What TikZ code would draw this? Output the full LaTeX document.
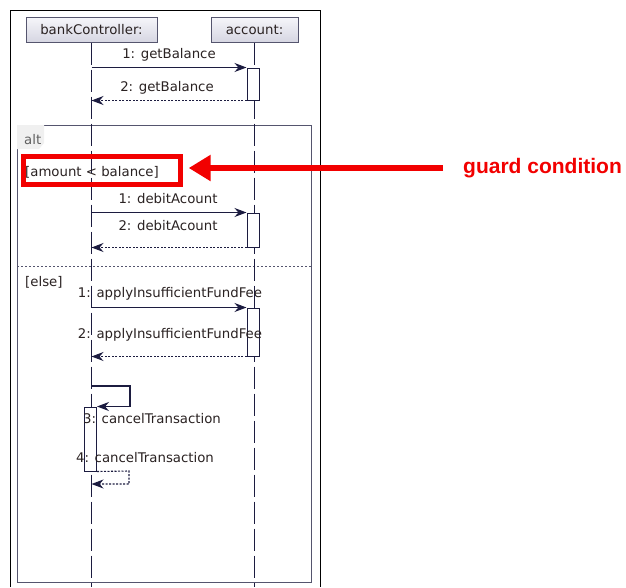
\documentclass[tikz,border=0pt]{standalone}
\usepackage{fontspec}
\setmainfont{DejaVu Sans}
\newfontfamily\guardfont{Liberation Sans}
\usetikzlibrary{arrows.meta,shapes.geometric}
\definecolor{navy}{HTML}{1C1C40}
\definecolor{framec}{HTML}{55556E}
\definecolor{txt}{HTML}{2A2222}
\definecolor{headtop}{HTML}{F6F6FA}
\definecolor{headbot}{HTML}{D6D6E2}
\definecolor{gred}{HTML}{F20000}
\tikzset{
  head/.style={draw=framec, line width=1pt, top color=headtop, bottom color=headbot,
    minimum height=25pt, inner sep=0pt, font=\fontsize{13.3}{13.3}\selectfont, text=txt},
  lifeline/.style={draw=navy, line width=1.2pt, dash pattern=on 22pt off 5pt},
  actbox/.style={draw=navy, fill=white, line width=1pt, minimum width=12pt, inner sep=0pt},
  msg/.style={draw=navy, line width=1.1pt, -{Stealth[length=12pt,width=9pt]}},
  ret/.style={draw=navy, line width=1.1pt, dash pattern=on 2pt off 1.5pt, -{Stealth[length=12pt,width=9pt]}},
  lbl/.style={font=\fontsize{13.3}{13.3}\selectfont, text=txt, inner sep=0pt},
  altframe/.style={draw=framec, line width=1pt},
}
\begin{document}
\begin{tikzpicture}[x=1pt,y=-1pt]
\useasboundingbox (0,0) rectangle (626,587);
\fill[white] (0,0) rectangle (626,587);
% outer frame
\coordinate (oBL) at (10.5,587);
\coordinate (oTL) at (10.5,10.5);
\coordinate (oTR) at (320.5,10.5);
\coordinate (oBR) at (320.5,587);
\draw[black, line width=0.9pt] (oBL) -- (oTL) -- (oTR) -- (oBR);
% alt frame
\node[altframe, minimum width=294pt, minimum height=457pt, inner sep=0pt] (alt) at (164,353.5) {};
\fill[gray!12] ([shift={(0.5,0.5)}]alt.north west) -- ++(27,0) -- ++(0,18) -- ++(-5,6) -- ++(-22,0) -- cycle;
\node[lbl, text=gray!75!black, anchor=west] (altlbl) at (24,140) {alt};
% separator
\coordinate (sepL) at (17,266);
\coordinate (sepR) at (311,266);
\draw[framec, line width=0.8pt, dash pattern=on 2pt off 2pt] (sepL) -- (sepR);
% heads
\node[head, minimum width=131pt] (bc) at (91.5,29.5) {bankController:};
\node[head, minimum width=87pt] (ac) at (254.5,29.5) {account:};
\coordinate (bcEnd) at (91.5,587);
\coordinate (acEnd) at (254.5,587);
\draw[lifeline] (bc.south) -- (bcEnd);
\draw[lifeline] (ac.south) -- (acEnd);
% activation boxes
\node[actbox, minimum height=32pt] (a1) at (253,84) {};
\node[actbox, minimum height=34pt] (a2) at (253,230) {};
\node[actbox, minimum height=48pt] (a3) at (253,332) {};
\node[actbox, minimum height=64pt] (a4) at (90.5,439) {};
% getBalance
\draw[msg] (bc |- a1.north) -- (a1.north west);
\node[lbl] (m1) at (169,55) {1: getBalance};
\draw[ret] (a1.south west) -- (bc |- a1.south);
\node[lbl] (m2) at (167,88) {2: getBalance};
% guard
\node[lbl, anchor=west] (guard) at (25,172) {[amount < balance]};
\node[draw=gred, line width=5pt, minimum width=157pt, minimum height=28pt, inner sep=0pt] (gbox) at (101.7,170.5) {};
\node[anchor=west, inner sep=0pt, text=gred, font=\guardfont\bfseries\fontsize{21}{21}\selectfont] (gc) at (463,168) {guard condition};
\coordinate (gcTail) at (443,168);
\draw[gred, line width=5.5pt, -{Triangle[length=22pt,width=25pt]}, shorten >=6pt] (gcTail) -- (gbox.east |- gcTail);
% debitAcount
\draw[msg] (bc |- a2.north) -- (a2.north west);
\node[lbl] (m3) at (168,199) {1: debitAcount};
\draw[ret] (a2.south west) -- (bc |- a2.south);
\node[lbl] (m4) at (168,226) {2: debitAcount};
% else
\node[lbl, anchor=west] (else) at (25,282) {[else]};
\draw[msg] (bc |- a3.north) -- (a3.north west);
\node[lbl] (m5) at (170,294) {1: applyInsufficientFundFee};
\draw[ret] (a3.south west) -- (bc |- a3.south);
\node[lbl] (m6) at (170,335) {2: applyInsufficientFundFee};
% self call
\coordinate (s1) at (91.5,386);
\coordinate (s2) at (130,386);
\draw[msg] (s1) -- (s2) |- (a4.north east);
\node[lbl] (m7) at (152,419) {3: cancelTransaction};
\coordinate (r2) at (129,471);
\coordinate (r3) at (129,484);
\coordinate (r4) at (91.5,484);
\draw[ret] (a4.south east) -- (r2) -- (r3) -- (r4);
\node[lbl] (m8) at (145,458) {4: cancelTransaction};
\end{tikzpicture}
\end{document}
